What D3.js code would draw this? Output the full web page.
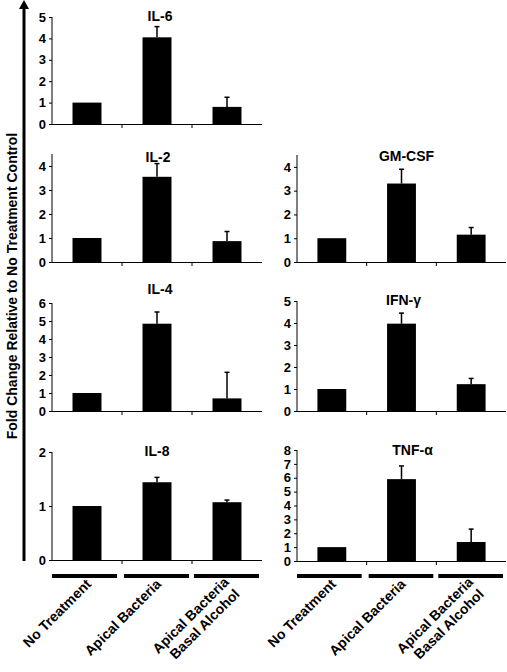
<!DOCTYPE html>
<html>
<head>
<meta charset="utf-8">
<script src="https://cdn.jsdelivr.net/npm/d3@7/dist/d3.min.js"></script>
<style>
  html, body { margin: 0; padding: 0; background: #fff; }
  svg { display: block; }
  text { font-family: "Liberation Sans", Arial, sans-serif; font-weight: bold; fill: #000; }
</style>
</head>
<body>
<svg id="chart" width="507" height="672"></svg>
<script>
// ---- data ----
const categories = ["No Treatment", "Apical Bacteria", "Apical Bacteria|Basal Alcohol"];

const il6Values = [1.0, 4.05, 0.8];
const il6Errors = [0, 0.5, 0.45];
const il6Ticks = [0, 1, 2, 3, 4, 5];

const il2Values = [1.0, 3.55, 0.87];
const il2Errors = [0, 0.55, 0.4];
const il2Ticks = [0, 1, 2, 3, 4];

const il4Values = [1.0, 4.85, 0.7];
const il4Errors = [0, 0.65, 1.45];
const il4Ticks = [0, 1, 2, 3, 4, 5, 6];

const il8Values = [1.0, 1.44, 1.07];
const il8Errors = [0, 0.09, 0.04];
const il8Ticks = [0, 1, 2];

const gmcsfValues = [1.0, 3.3, 1.15];
const gmcsfErrors = [0, 0.6, 0.3];
const gmcsfTicks = [0, 1, 2, 3, 4];

const ifngValues = [1.0, 3.97, 1.22];
const ifngErrors = [0, 0.48, 0.26];
const ifngTicks = [0, 1, 2, 3, 4, 5];

const tnfaValues = [1.0, 5.9, 1.37];
const tnfaErrors = [0, 0.95, 0.93];
const tnfaTicks = [0, 1, 2, 3, 4, 5, 6, 7, 8];

const yLabel = "Fold Change Relative to No Treatment Control";

// ---- layout ----
const panels = [
  { title: "IL-6",   values: il6Values,   errors: il6Errors,   ticks: il6Ticks,   max: 5,   col: 0, y0: 124, y1: 17,  titleY: 21,  titleDx: 3 },
  { title: "IL-2",   values: il2Values,   errors: il2Errors,   ticks: il2Ticks,   max: 4.5, col: 0, y0: 262, y1: 154, titleY: 162, titleDx: 1 },
  { title: "IL-4",   values: il4Values,   errors: il4Errors,   ticks: il4Ticks,   max: 6,   col: 0, y0: 411, y1: 303, titleY: 294, titleDx: 3 },
  { title: "IL-8",   values: il8Values,   errors: il8Errors,   ticks: il8Ticks,   max: 2,   col: 0, y0: 560, y1: 452, titleY: 456, titleDx: 0 },
  { title: "GM-CSF", values: gmcsfValues, errors: gmcsfErrors, ticks: gmcsfTicks, max: 4.5, col: 1, y0: 262, y1: 155, titleY: 161, titleDx: 5 },
  { title: "IFN-γ",  values: ifngValues,  errors: ifngErrors,  ticks: ifngTicks,  max: 5,   col: 1, y0: 411, y1: 301, titleY: 305, titleDx: 2 },
  { title: "TNF-α",  values: tnfaValues,  errors: tnfaErrors,  ticks: tnfaTicks,  max: 8,   col: 1, y0: 561, y1: 450, titleY: 455, titleDx: 11 }
];
const colX = [[52, 262], [297, 506]];

const svg = d3.select("#chart");

// y-axis arrow and label
svg.append("line").attr("x1", 24).attr("x2", 24).attr("y1", 8).attr("y2", 561)
  .attr("stroke", "#000").attr("stroke-width", 3);
svg.append("path").attr("d", "M24,0 L29,9 L19,9 Z").attr("fill", "#000");
svg.append("text")
  .attr("transform", "translate(17,286) rotate(-90)")
  .attr("text-anchor", "middle")
  .style("font-size", "14px")
  .text(yLabel);

panels.forEach(p => {
  const [xa, xb] = colX[p.col];
  const x = d3.scaleBand().domain(categories).range([xa, xb]).paddingInner(0.586).paddingOuter(0.293);
  const y = d3.scaleLinear().domain([0, p.max]).range([p.y0, p.y1]);
  const g = svg.append("g");

  // bars
  g.selectAll("rect.bar").data(p.values).enter().append("rect")
    .attr("x", (d, i) => x(categories[i]))
    .attr("width", x.bandwidth())
    .attr("y", d => y(d))
    .attr("height", d => y(0) - y(d))
    .attr("fill", "#000");

  // error bars (upper only)
  p.errors.forEach((e, i) => {
    if (e <= 0) return;
    const cx = x(categories[i]) + x.bandwidth() / 2;
    g.append("line").attr("x1", cx).attr("x2", cx)
      .attr("y1", y(p.values[i])).attr("y2", y(p.values[i] + e))
      .attr("stroke", "#000").attr("stroke-width", 1.5);
    g.append("line").attr("x1", cx - 2.5).attr("x2", cx + 2.5)
      .attr("y1", y(p.values[i] + e)).attr("y2", y(p.values[i] + e))
      .attr("stroke", "#000").attr("stroke-width", 1.5);
  });

  // y axis
  const ya = g.append("g").attr("transform", `translate(${xa},0)`)
    .call(d3.axisLeft(y).tickValues(p.ticks).tickSize(3).tickPadding(3).tickSizeOuter(0).tickFormat(d3.format("d")));
  ya.select(".domain").attr("stroke", "#000").attr("stroke-width", 1)
    .attr("d", `M0,${p.y0}V${p.y1}`);
  ya.selectAll("text").style("font-size", "13px").style("font-family", "'Liberation Sans', Arial, sans-serif").style("font-weight", "bold");

  // x axis baseline with boundary ticks
  g.append("line").attr("x1", xa).attr("x2", xb).attr("y1", p.y0 + 0.5).attr("y2", p.y0 + 0.5)
    .attr("stroke", "#000").attr("stroke-width", 1);
  categories.slice(1).forEach(c => {
    const bx = x(c) - x.step() * x.paddingInner() / 2;
    g.append("line").attr("x1", bx).attr("x2", bx).attr("y1", p.y0).attr("y2", p.y0 + 4)
      .attr("stroke", "#000").attr("stroke-width", 1);
  });

  // title
  const midX = x(categories[1]) + x.bandwidth() / 2;
  g.append("text").attr("x", midX + p.titleDx).attr("y", p.titleY)
    .attr("text-anchor", "middle").style("font-size", "14px").text(p.title);
});

// category group bars and rotated labels for both columns
colX.forEach(([xa, xb]) => {
  const x = d3.scaleBand().domain(categories).range([xa, xb]).paddingInner(0.586).paddingOuter(0.293);
  const step = x.step();
  categories.forEach((c, i) => {
    const start = xa + i * step;
    svg.append("rect").attr("x", start + (i === 0 ? 0 : 2)).attr("y", 574)
      .attr("width", step - 5).attr("height", 4).attr("fill", "#000");
    const cx = x(c) + x.bandwidth() / 2;
    const lines = c.split("|");
    const t = svg.append("text")
      .attr("transform", `translate(${cx + 5},585) rotate(-45)`)
      .attr("text-anchor", "end")
      .style("font-size", "14px");
    if (lines.length === 1) {
      t.text(lines[0]);
    } else {
      t.append("tspan").attr("x", 0).attr("dy", -3).text(lines[0]);
      t.append("tspan").attr("x", 0).attr("dx", -1).attr("dy", 16).text(lines[1]);
    }
  });
});
</script>
</body>
</html>
